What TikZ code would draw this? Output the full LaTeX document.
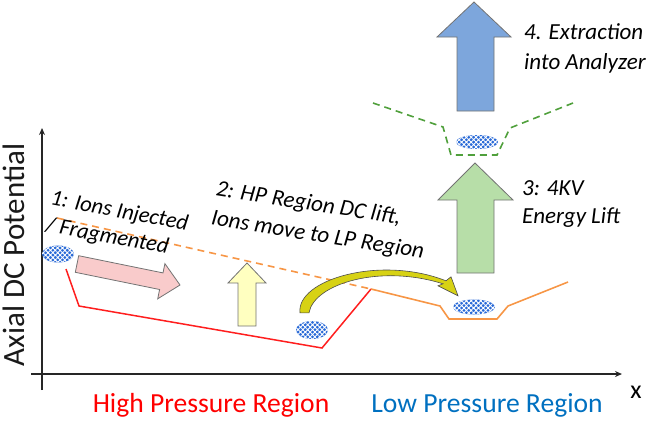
\documentclass[tikz,border=0pt]{standalone}
\usepackage{fontspec}
\setmainfont{Carlito}
\usetikzlibrary{positioning}
\usetikzlibrary{shapes.misc,shapes}
\usetikzlibrary{arrows.meta}
\usetikzlibrary{patterns.meta}
\definecolor{potorange}{RGB}{247,150,70}
\definecolor{potred}{RGB}{255,30,30}
\definecolor{potgreen}{RGB}{80,160,60}
\definecolor{ionblue}{RGB}{40,105,215}
\definecolor{lpblue}{RGB}{0,112,192}
\definecolor{injpink}{RGB}{249,203,203}
\definecolor{hpyellow}{RGB}{255,255,192}
\definecolor{liftgreen}{RGB}{183,222,168}
\definecolor{extblue}{RGB}{125,166,220}
\definecolor{jumpyellow}{RGB}{215,210,20}
\tikzset{
  ion/.style={ellipse,inner sep=0pt,preaction={fill=ionblue},
    pattern={Hatch[angle=45,distance=3.4pt,line width=0.9pt]},pattern color=white},
  fatarrow/.style={draw=black!55,line width=0.8pt,line join=miter},
  steplabel/.style={font=\fontsize{23}{28}\selectfont\itshape,text=black,align=left,inner sep=0pt},
  regionlabel/.style={font=\fontsize{27.6}{32}\selectfont,inner sep=0pt}
}

\begin{document}
\begin{tikzpicture}[x=1pt,y=-1pt]
	\useasboundingbox (0,0) rectangle (652,421);

	% axes
	\draw[line width=1.2pt,black!85,-{Stealth[length=7pt,width=6pt]}] (42,390) -- (42,128);
	\draw[line width=1.2pt,black!85,-{Stealth[length=7pt,width=6pt]}] (31,374) -- (622,374);
	\node[font=\fontsize{31}{36}\selectfont,text=black!90,rotate=90,inner sep=0pt] (ylabel) at (14,255) {Axial DC Potential};
	\node[font=\fontsize{26}{30}\selectfont,inner sep=0pt] (xlabel) at (636,392) {x};
	\node[regionlabel,text=red,anchor=base] (hplabel) at (211,412) {High Pressure Region};
	\node[regionlabel,text=lpblue,anchor=base] (lplabel) at (487,412) {Low Pressure Region};

	% potentials
	\draw[potorange,line width=1.6pt,dash pattern=on 7pt off 5pt] (57,218) -- (371,289);
	\draw[potred,line width=1.5pt] (66,269) -- (79,306) -- (322,348) -- (371,289);
	\draw[potorange,line width=1.6pt] (371,289) -- (440,306) -- (449,319) -- (497,319) -- (508,306) -- (568,282);
	\draw[potgreen,line width=1.6pt,dash pattern=on 7pt off 5pt] (373,103) -- (443,127) -- (451,155) -- (497,155) -- (510,128) -- (573,103);

	% ion clouds
	\node[ion,minimum width=32pt,minimum height=17pt] (ionA) at (58,254) {};
	\node[ion,minimum width=32pt,minimum height=18pt] (ionB) at (312,330) {};
	\node[ion,minimum width=42pt,minimum height=15pt] (ionC) at (474,307) {};
	\node[ion,minimum width=42pt,minimum height=14pt] (ionD) at (477,142) {};

	% block arrows
	\draw[fatarrow,fill=injpink] (78.7,255.7) -- (163.0,272.9) -- (164.9,263.6) -- (180,285) -- (157.7,298.8) -- (159.6,289.5) -- (75.3,272.3) -- cycle;
	\draw[fatarrow,fill=hpyellow] (238,326) -- (238,283) -- (228,283) -- (247,263) -- (266,283) -- (256,283) -- (256,326) -- cycle;
	\draw[fatarrow,fill=liftgreen] (457,273) -- (457,200) -- (438,200) -- (475,163) -- (513,200) -- (494,200) -- (494,273) -- cycle;
	\draw[fatarrow,fill=extblue] (457,111) -- (457,37) -- (437,37) -- (474,2) -- (511,37) -- (494,37) -- (494,111) -- cycle;

	% jump of the ions from HP to LP region
	\coordinate (jumpS) at ([yshift=8pt,xshift=-7.5pt]ionB.north);
	\coordinate (jumpE) at ([xshift=-16pt,yshift=3.5pt]ionC.north);
	\filldraw[fill=jumpyellow,draw=black!70,line width=0.6pt]
		([xshift=-4.5pt]jumpS) .. controls +(-4,-33) and +(-66,-26) .. ([xshift=-12pt,yshift=15pt]jumpE)
		-- ([xshift=-7pt,yshift=19pt]jumpE) -- (jumpE) -- ([xshift=-20pt,yshift=10pt]jumpE)
		-- ([xshift=-15pt,yshift=12pt]jumpE) .. controls +(-63,-20) and +(5,-29) .. ([xshift=4.5pt]jumpS) -- cycle;

	% labels
	\node[steplabel,font=\fontsize{22.5}{27}\selectfont\itshape,rotate=-10.5] (inject) at (117,225) {1: Ions Injected\\/ Fragmented};
	\node[steplabel,font=\fontsize{23}{30}\selectfont\itshape,rotate=-9] (hplift) at (320,221) {2: HP Region DC lift,\\Ions move to LP Region};
	\node[steplabel,anchor=west] (kvlift) at (522,204) {3: 4KV\\Energy Lift};
	\node[steplabel,font=\fontsize{23}{30}\selectfont\itshape,anchor=west] (extract) at (524,48) {4. Extraction\\into Analyzer};
\end{tikzpicture}
\end{document}
